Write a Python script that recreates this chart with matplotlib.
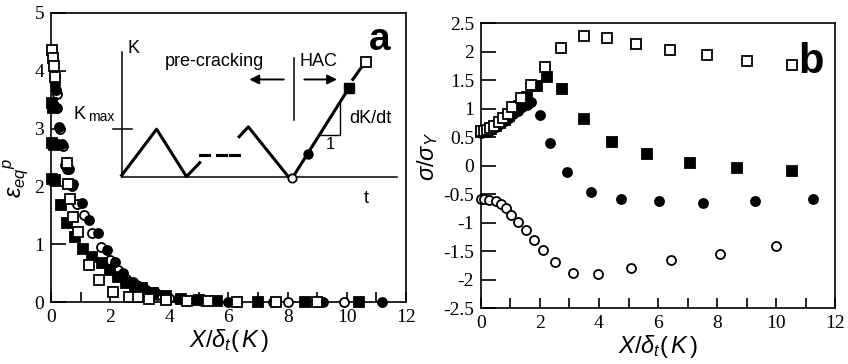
import matplotlib
matplotlib.use("Agg")
import matplotlib.pyplot as plt

plt.rcParams["font.family"] = ["Liberation Serif", "DejaVu Serif"]
plt.rcParams["axes.unicode_minus"] = False
plt.rcParams["mathtext.fontset"] = "custom"
plt.rcParams["mathtext.it"] = "Liberation Sans:italic"
plt.rcParams["mathtext.rm"] = "Liberation Sans"

SANS = "Liberation Sans"
SERIF = "Liberation Serif"

# ---- panel a: equivalent plastic strain vs distance ----
a_osq_x = [0.05, 0.07, 0.09, 0.12, 0.55, 0.58, 0.64, 0.74, 0.91, 1.28, 1.62, 2.09,
           2.64, 2.94, 3.3, 3.9, 4.6, 5.3, 6.3, 7.6, 9.0]
a_osq_y = [4.36, 4.22, 4.08, 3.9, 2.4, 2.05, 1.78, 1.47, 1.21, 0.64, 0.38, 0.17,
           0.09, 0.09, 0.06, 0.04, 0.02, 0.01, 0.0, 0.0, 0.0]

a_fsq_x = [0.03, 0.07, 0.03, 0.1, 0.04, 0.14, 0.33, 0.53, 0.81, 1.07, 1.4, 1.71,
           2.0, 2.26, 2.55, 2.84, 3.06, 3.45, 3.9, 4.4, 5.0, 5.6, 7.0, 8.6, 10.4]
a_fsq_y = [3.44, 3.35, 2.75, 2.72, 2.12, 2.11, 1.68, 1.37, 1.13, 0.92, 0.78, 0.68,
           0.55, 0.43, 0.33, 0.26, 0.24, 0.16, 0.1, 0.06, 0.03, 0.02, 0.0, 0.0, 0.0]

a_fci_x = [0.1, 0.14, 0.17, 0.22, 0.28, 0.36, 0.46, 0.6, 0.75, 1.04, 1.28, 1.59,
           1.88, 2.16, 2.43, 2.77, 3.11, 3.51, 3.9, 4.3, 4.8, 6.0, 7.5, 9.2, 11.2]
a_fci_y = [3.98, 3.78, 3.67, 3.35, 3.03, 2.74, 2.37, 2.3, 2.05, 1.71, 1.42, 1.19,
           0.9, 0.69, 0.5, 0.35, 0.26, 0.17, 0.1, 0.06, 0.03, 0.0, 0.0, 0.0, 0.0]

a_oci_x = [0.13, 0.2, 0.3, 0.42, 0.55, 0.7, 0.88, 1.12, 1.38, 1.68, 1.98, 2.25,
           2.52, 2.86, 3.2, 3.6, 4.0, 4.5, 5.1, 6.3, 8.0, 9.9]
a_oci_y = [3.9, 3.6, 3.0, 2.7, 2.3, 2.0, 1.7, 1.5, 1.2, 0.95, 0.72, 0.56,
           0.4, 0.3, 0.2, 0.12, 0.07, 0.04, 0.01, 0.0, 0.0, 0.0]

# inset schematic (drawn in panel a data units)
wave1_x = [2.39, 3.57, 4.58, 5.03]
wave1_y = [2.19, 2.99, 2.17, 2.41]
wave2_x = [6.36, 6.67, 8.02]
wave2_y = [2.86, 3.03, 2.17]
ramp_x = [8.15, 10.08]
ramp_y = [2.14, 3.71]
ramp_end_x = [10.2, 10.55]
ramp_end_y = [3.85, 4.1]

# ---- panel b: normalised stress vs distance ----
b_osq_x = [0.0, 0.1, 0.2, 0.3, 0.45, 0.6, 0.75, 0.9, 1.06, 1.34, 1.68, 2.16,
           2.70, 3.49, 4.28, 5.27, 6.41, 7.67, 9.03, 10.55]
b_osq_y = [0.6, 0.61, 0.63, 0.66, 0.7, 0.76, 0.83, 0.91, 1.03, 1.18, 1.41, 1.73,
           2.07, 2.28, 2.23, 2.13, 2.03, 1.94, 1.84, 1.76]

b_fsq_x = [0.0, 0.1, 0.2, 0.35, 0.5, 0.65, 0.8, 0.95, 1.1, 1.3, 1.55, 1.91,
           2.25, 2.76, 3.49, 4.45, 5.64, 7.07, 8.69, 10.55]
b_fsq_y = [0.58, 0.59, 0.61, 0.64, 0.69, 0.74, 0.8, 0.87, 0.95, 1.05, 1.2, 1.39,
           1.55, 1.35, 0.82, 0.41, 0.20, 0.04, -0.05, -0.09]

b_fci_x = [0.0, 0.1, 0.2, 0.35, 0.5, 0.65, 0.8, 0.95, 1.1, 1.25, 1.4, 1.55,
           1.68, 1.99, 2.34, 2.90, 3.72, 4.76, 6.03, 7.54, 9.28, 11.27]
b_fci_y = [0.57, 0.58, 0.6, 0.63, 0.67, 0.72, 0.78, 0.84, 0.9, 0.96, 1.02, 1.07,
           1.11, 0.89, 0.40, -0.12, -0.46, -0.59, -0.63, -0.65, -0.63, -0.59]

b_oci_x = [0.0, 0.1, 0.27, 0.50, 0.69, 0.84, 1.03, 1.25, 1.51, 1.80, 2.10, 2.50,
           3.12, 3.97, 5.10, 6.45, 8.10, 10.01]
b_oci_y = [-0.58, -0.585, -0.605, -0.63, -0.675, -0.75, -0.87, -0.985, -1.13, -1.31,
           -1.48, -1.70, -1.88, -1.90, -1.79, -1.66, -1.55, -1.42]

fig = plt.figure(figsize=(8.48, 3.64), dpi=100)
ax1 = fig.add_axes([0.0601, 0.1703, 0.4187, 0.794])
ax2 = fig.add_axes([0.5672, 0.1538, 0.4175, 0.783])

ms = 6.5
mew = 1.3


def markers(ax, x, y, marker, filled):
    ax.plot(x, y, linestyle="none", marker=marker, ms=ms, mew=mew,
            mec="black", mfc="black" if filled else "white", clip_on=False,
            zorder=3)


def style(ax):
    for s in ax.spines.values():
        s.set_linewidth(1.2)
    ax.tick_params(direction="in", width=1.2, labelsize=14, pad=5,
                   labelfontfamily=SERIF)
    ax.tick_params(axis="y", length=11)
    ax.tick_params(axis="x", length=7)
    ax.tick_params(axis="x", which="minor", direction="in", length=7, width=1.2)


# panel a
markers(ax1, a_oci_x, a_oci_y, "o", False)
markers(ax1, a_fci_x, a_fci_y, "o", True)
markers(ax1, a_fsq_x, a_fsq_y, "s", True)
markers(ax1, a_osq_x, a_osq_y, "s", False)
ax1.set_xlim(0, 12)
ax1.set_ylim(0, 5)
ax1.set_xticks(range(0, 13, 2))
ax1.set_xticks(range(0, 13), minor=True)
ax1.set_yticks(range(0, 6))
style(ax1)
ax1.set_xlabel(r"$X/\delta_t(\,K\,)$", fontsize=17, labelpad=1)
ax1.set_ylabel(r"$\varepsilon_{eq}{}^{p}$", fontsize=17, labelpad=0)
ax1.yaxis.set_label_coords(-0.058, 0.43)

lw_thick = 2.2
ax1.plot([2.39, 2.39], [2.17, 4.33], color="black", lw=1.1)
ax1.plot([2.39, 11.68], [2.16, 2.16], color="black", lw=1.1)
ax1.plot([2.1, 2.73], [3.0, 3.0], color="black", lw=1.1)
ax1.plot(wave1_x, wave1_y, color="black", lw=lw_thick)
ax1.plot([5.03, 5.35], [2.55, 2.55], color="black", lw=lw_thick)
ax1.plot([5.6, 5.9], [2.55, 2.55], color="black", lw=lw_thick)
ax1.plot([6.05, 6.35], [2.55, 2.55], color="black", lw=lw_thick)
ax1.plot(wave2_x, wave2_y, color="black", lw=lw_thick)
ax1.plot(ramp_x, ramp_y, color="black", lw=lw_thick)
ax1.plot(ramp_end_x, ramp_end_y, color="black", lw=lw_thick)
ax1.plot([8.15], [2.14], marker="o", ms=6, mew=1.3, mec="black", mfc="white", zorder=4)
ax1.plot([8.69], [2.56], marker="o", ms=6.5, color="black", zorder=4)
ax1.plot([10.08], [3.71], marker="s", ms=6.5, color="black", zorder=4)
ax1.plot([10.66], [4.16], marker="s", ms=6.5, mew=1.3, mec="black", mfc="white", zorder=4)
ax1.plot([9.76, 9.76, 9.03], [3.47, 2.89, 2.89], color="black", lw=1.0)
ax1.plot([8.22, 8.22], [3.15, 4.22], color="black", lw=1.1)
ax1.annotate("", xy=(6.61, 3.85), xytext=(7.96, 3.85),
             arrowprops=dict(arrowstyle="-|>", color="black", lw=1.4, mutation_scale=14))
ax1.annotate("", xy=(9.76, 3.85), xytext=(8.47, 3.85),
             arrowprops=dict(arrowstyle="-|>", color="black", lw=1.4, mutation_scale=14))

ax1.text(2.6, 4.39, "K", family=SANS, fontsize=13, ha="left", va="center")
ax1.text(0.75, 3.24, "K", family=SANS, fontsize=13, ha="left", va="center")
ax1.text(1.25, 3.2, "max", family=SANS, fontsize=10, ha="left", va="center")
ax1.text(10.66, 1.79, "t", family=SANS, fontsize=13, ha="center", va="center")
ax1.text(5.54, 4.16, "pre-cracking", family=SANS, fontsize=13, ha="center", va="center")
ax1.text(8.4, 4.16, "HAC", family=SANS, fontsize=13, ha="left", va="center")
ax1.text(9.43, 2.72, "1", family=SANS, fontsize=12, ha="center", va="center")
ax1.text(10.78, 3.18, "dK/dt", family=SANS, fontsize=13, ha="center", va="center")
ax1.text(11.1, 4.53, "a", family=SANS, fontsize=28, weight="bold", ha="center", va="center")

# panel b
markers(ax2, b_oci_x, b_oci_y, "o", False)
markers(ax2, b_fci_x, b_fci_y, "o", True)
markers(ax2, b_fsq_x, b_fsq_y, "s", True)
markers(ax2, b_osq_x, b_osq_y, "s", False)
ax2.set_xlim(0, 12)
ax2.set_ylim(-2.5, 2.5)
ax2.set_xticks(range(0, 13, 2))
ax2.set_xticks(range(0, 13), minor=True)
yt = [2.5, 2, 1.5, 1, 0.5, 0, -0.5, -1, -1.5, -2, -2.5]
ax2.set_yticks(yt)
ax2.set_yticklabels([("%g" % v) for v in yt])
style(ax2)
ax2.set_xlabel(r"$X/\delta_t(\,K\,)$", fontsize=17, labelpad=1)
ax2.set_ylabel(r"$\sigma/\sigma_Y$", fontsize=17, labelpad=0)
ax2.yaxis.set_label_coords(-0.115, 0.53)
ax2.text(11.2, 1.82, "b", family=SANS, fontsize=30, weight="bold", ha="center", va="center")

fig.savefig("out.png", dpi=100)
